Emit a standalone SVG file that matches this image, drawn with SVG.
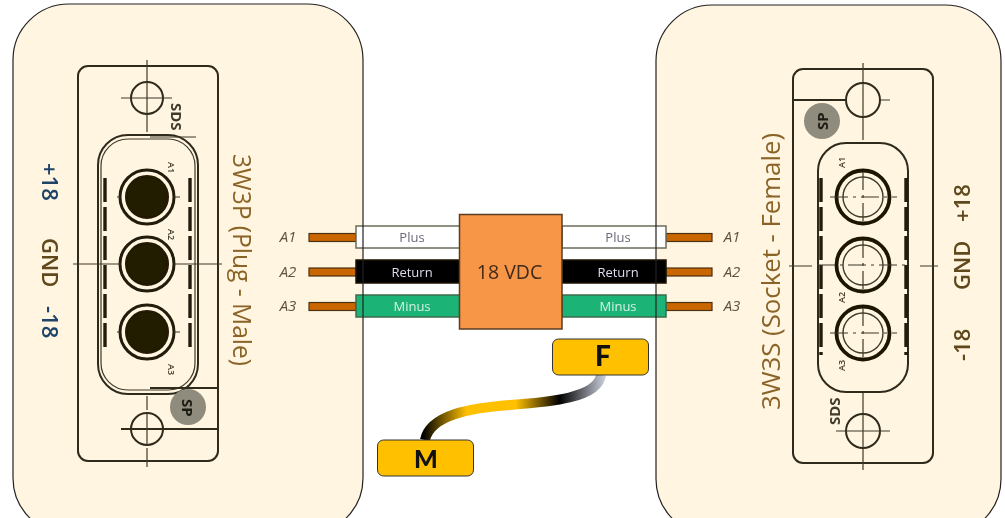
<svg xmlns="http://www.w3.org/2000/svg" width="1005" height="518" viewBox="0 0 1005 518">
<style>
.panel{fill:#fff5e1;stroke:none}
.edge{fill:none;stroke:#222;stroke-width:1.2}
.ln{fill:none;stroke:#2f2a1c;stroke-width:2}
.thin{fill:none;stroke:#3f3a2a;stroke-width:1.2}
.dash{fill:none;stroke:#3f3a2a;stroke-width:1.2;stroke-dasharray:18 5 3 5}
.heavy{fill:none;stroke:#211c0a;stroke-width:3.4;stroke-dasharray:24 5}
.lab{font-family:"Open Sans","DejaVu Sans",sans-serif}
.big{font-size:26px;fill:#8a6428;font-weight:500}
.volt{font-size:22px;fill:#1f4468;font-weight:600}
.volt2{font-size:22px;fill:#5f4a1c;font-weight:600}
.tiny{font-size:9px;fill:#3f3a2a;font-weight:600}
.mark{font-size:15px;font-weight:700;fill:#3f3a2a}
.pin{font-size:15px;fill:#5e5240;font-style:italic;text-anchor:middle}
.cu{fill:#c96605;stroke:#4a3015;stroke-width:1.2}
.bar{stroke-width:1.5}
.wl{font-size:13px;text-anchor:middle}
.box{fill:#ffc000;stroke:#333;stroke-width:1}
.bl{font-family:Lato,"DejaVu Sans",sans-serif;font-weight:900;fill:#111;text-anchor:middle}
</style>
<defs>
<linearGradient id="cable" gradientUnits="userSpaceOnUse" x1="423" y1="0" x2="605" y2="0">
<stop offset="0" stop-color="#000"/>
<stop offset=".24" stop-color="#ffc000"/>
<stop offset=".51" stop-color="#ffc000"/>
<stop offset=".75" stop-color="#000"/>
<stop offset="1" stop-color="#c9cedb"/>
</linearGradient>
<filter id="soft" x="-5%" y="-5%" width="110%" height="110%"><feGaussianBlur stdDeviation="0.6"/></filter>
<filter id="softer" x="-5%" y="-5%" width="110%" height="110%"><feGaussianBlur stdDeviation="0.4"/></filter>
</defs>

<g id="panel-left"><rect class="panel" x="13" y="4" width="350" height="530" rx="56"/></g>
<g id="panel-right"><rect class="panel" x="656" y="5" width="345" height="530" rx="56"/></g>

<g id="connector-left" filter="url(#soft)">
<rect class="ln" x="78" y="66" width="140" height="395" rx="10"/>
<path class="thin" d="M147 60V82M147 114V132M147 396V410M147 448V467M73 264H95M200 264H222"/>
<circle class="ln" cx="147" cy="98" r="16"/><path class="thin" d="M121 98H172M147 82V114"/>
<circle class="ln" cx="147" cy="429" r="16"/><path class="ln" d="M121 429H218"/><path class="thin" d="M147 413V445"/>
<rect class="ln" x="98" y="135" width="100" height="259" rx="30"/>
<rect class="thin" x="101" y="139" width="94" height="251" rx="27"/>
<path class="thin" d="M150 137H196"/><path class="ln" d="M150 388H218"/>
<path class="heavy" d="M105 178V350M190 178V350"/>
<g fill="#231a05" stroke="#231a05" stroke-width="2">
<circle cx="147" cy="197" r="21"/><circle cx="147" cy="264" r="21"/><circle cx="147" cy="332" r="21"/>
</g>
<g fill="none" stroke="#211c0a" stroke-width="3">
<circle cx="147" cy="197" r="27"/><circle cx="147" cy="264" r="27"/><circle cx="147" cy="332" r="27"/>
</g>
<path class="thin" d="M117 197H120M174 197H180M117 332H120M174 332H180M95 264H120M174 264H200"/>
<text class="lab tiny" transform="translate(168 162) rotate(90)">A1</text>
<text class="lab tiny" transform="translate(168 229) rotate(90)">A2</text>
<text class="lab tiny" transform="translate(168 364) rotate(90)">A3</text>
<text class="lab mark" transform="translate(171 103) rotate(90)">SDS</text>
<circle cx="188" cy="407" r="18" fill="#8f8b7d"/>
<text class="lab" font-size="15" font-weight="700" fill="#1f1c12" transform="translate(182 399) rotate(90)">SP</text>
</g>

<g id="connector-right" filter="url(#soft)">
<rect class="ln" x="793" y="69" width="140" height="394" rx="10"/>
<path class="thin" d="M863 63V84M863 118V140M863 392V415M863 448V470M789 266H812M920 266H938"/>
<circle class="ln" cx="863" cy="100" r="17"/><path class="ln" d="M793 100H846"/><path class="thin" d="M880 100H890M863 83V117"/>
<circle class="ln" cx="863" cy="431" r="17"/><path class="thin" d="M836 431H890M863 414V448"/>
<rect class="ln" x="818" y="143" width="90" height="249" rx="28"/>
<path class="heavy" d="M821 178V355M906 178V355"/>
<g fill="none" stroke="#1c1603" stroke-width="3.8">
<circle cx="863" cy="197" r="26.500"/><circle cx="863" cy="265" r="26.500"/><circle cx="863" cy="333" r="26.500"/>
</g>
<g fill="none" stroke="#3f3a2a" stroke-width="1.4">
<circle cx="863" cy="197" r="20"/><circle cx="863" cy="265" r="20"/><circle cx="863" cy="333" r="20"/>
</g>
<path class="dash" d="M830 197H897M830 333H897M817 265H908M863 172V222M863 240V290M863 308V358"/>
<text class="lab tiny" transform="translate(845 168) rotate(-90)">A1</text>
<text class="lab tiny" transform="translate(845 303) rotate(-90)">A2</text>
<text class="lab tiny" transform="translate(845 371) rotate(-90)">A3</text>
<text class="lab mark" transform="translate(840 425) rotate(-90)">SDS</text>
<circle cx="822" cy="121" r="18" fill="#8f8b7d"/>
<text class="lab" font-size="15" font-weight="700" fill="#1f1c12" transform="translate(828 130) rotate(-90)">SP</text>
</g>

<g id="label-left" filter="url(#softer)">
<text class="lab big" transform="translate(233 154) rotate(90)" textLength="212" lengthAdjust="spacingAndGlyphs">3W3P (Plug - Male)</text>
<text class="lab volt" transform="translate(42 163) rotate(90)">+18</text>
<text class="lab volt2" transform="translate(42 238) rotate(90)">GND</text>
<text class="lab volt" transform="translate(42 306) rotate(90)">-18</text>
</g>
<g id="label-right" filter="url(#softer)">
<text class="lab big" transform="translate(780 410) rotate(-90)" textLength="277" lengthAdjust="spacingAndGlyphs">3W3S (Socket - Female)</text>
<text class="lab volt2" transform="translate(970 361) rotate(-90)">-18</text>
<text class="lab volt2" transform="translate(970 290) rotate(-90)">GND</text>
<text class="lab volt2" transform="translate(970 222) rotate(-90)">+18</text>
</g>

<g id="connectors">
<path d="M601 375C598 398 550 402 510 405C470 408 430 415 425 440" fill="none" stroke="url(#cable)" stroke-width="10"/>
</g>

<g id="wires-left" filter="url(#softer)">
<rect class="cu" x="309" y="233.500" width="47" height="8"/>
<rect class="cu" x="309" y="268" width="47" height="8"/>
<rect class="cu" x="309" y="302.500" width="47" height="8"/>
<rect class="bar" x="356" y="226" width="104" height="22" fill="#fff" stroke="#6b6b5a"/>
<rect class="bar" x="356" y="260" width="104" height="23" fill="#000" stroke="#1a1505"/>
<rect class="bar" x="356" y="295" width="104" height="22" fill="#1fb377" stroke="#3c6b4c"/>
<text class="lab wl" x="412" y="242" fill="#6a6a7a">Plus</text>
<text class="lab wl" x="412" y="277" fill="#ddddf0">Return</text>
<text class="lab wl" x="412" y="311" fill="#d5f0e5">Minus</text>
<text class="lab pin" x="288" y="242">A1</text>
<text class="lab pin" x="288" y="277">A2</text>
<text class="lab pin" x="288" y="311">A3</text>
</g>
<g id="wires-right" filter="url(#softer)">
<rect class="cu" x="666" y="233.500" width="46" height="8"/>
<rect class="cu" x="666" y="268" width="46" height="8"/>
<rect class="cu" x="666" y="302.500" width="46" height="8"/>
<rect class="bar" x="562" y="226" width="104" height="22" fill="#fff" stroke="#6b6b5a"/>
<rect class="bar" x="562" y="260" width="104" height="23" fill="#000" stroke="#1a1505"/>
<rect class="bar" x="562" y="295" width="104" height="22" fill="#1fb377" stroke="#3c6b4c"/>
<text class="lab wl" x="618" y="242" fill="#6a6a7a">Plus</text>
<text class="lab wl" x="618" y="277" fill="#ddddf0">Return</text>
<text class="lab wl" x="618" y="311" fill="#d5f0e5">Minus</text>
<text class="lab pin" x="732" y="242">A1</text>
<text class="lab pin" x="732" y="277">A2</text>
<text class="lab pin" x="732" y="311">A3</text>
</g>

<g id="panel-edges">
<rect class="edge" x="13" y="4" width="350" height="530" rx="56"/>
<rect class="edge" x="656" y="5" width="345" height="530" rx="56"/>
</g>

<g id="source-18vdc" filter="url(#softer)">
<rect x="459.500" y="214.500" width="102.500" height="114.500" fill="#f79646" stroke="#5a3c22" stroke-width="1.500"/>
<text class="lab" x="509.500" y="279" font-size="19.500" fill="#3f2a1c" text-anchor="middle">18 VDC</text>
</g>
<g id="node-f">
<rect class="box" x="552.500" y="339" width="96" height="36" rx="6"/>
<text class="bl" x="603" y="366" font-size="28">F</text>
</g>
<g id="node-m">
<rect class="box" x="377.500" y="440" width="96" height="36" rx="6"/>
<text class="bl" x="426" y="468" font-size="25">M</text>
</g>
</svg>
